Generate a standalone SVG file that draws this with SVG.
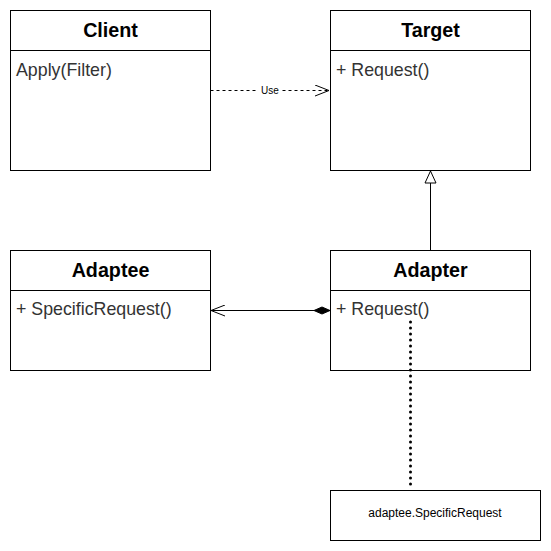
<svg xmlns="http://www.w3.org/2000/svg" width="551" height="551" viewBox="0 0 551 551">
<style>
.box{fill:#fff;stroke:#000;stroke-width:1}
.title{font-family:"Liberation Sans",Arial,sans-serif;font-size:19.7px;font-weight:bold;text-anchor:middle}
.member{font-family:"Liberation Sans",Arial,sans-serif;font-size:17.8px;fill:#333}
.conn{fill:none;stroke:#000;stroke-width:1}
</style>
<defs>
<marker id="open" markerWidth="16" markerHeight="12" refX="15" refY="6" orient="auto" markerUnits="userSpaceOnUse">
<path d="M1,0.5 L15,6 L1,11.5" fill="none" stroke="#000" stroke-width="1"/>
</marker>
<marker id="tri" markerWidth="14" markerHeight="14" refX="13" refY="7" orient="auto" markerUnits="userSpaceOnUse">
<path d="M1,1.5 L13,7 L1,12.5 Z" fill="#fff" stroke="#000" stroke-width="1"/>
</marker>
<marker id="diamond" markerWidth="18" markerHeight="10" refX="1" refY="5" orient="auto" markerUnits="userSpaceOnUse">
<path d="M1,5 L9,1.5 L17,5 L9,8.5 Z" fill="#000" stroke="#000" stroke-width="1"/>
</marker>
</defs>
<rect width="551" height="551" fill="#fff"/>
<g id="client">
<rect class="box" x="10.5" y="10.5" width="200" height="160"/>
<line class="conn" x1="10.5" y1="50.5" x2="210.5" y2="50.5"/>
<text class="title" x="110.5" y="36.7">Client</text>
<text class="member" x="16" y="76">Apply(Filter)</text>
</g>
<g id="target">
<rect class="box" x="330.5" y="10.5" width="200" height="160"/>
<line class="conn" x1="330.5" y1="50.5" x2="530.5" y2="50.5"/>
<text class="title" x="430.5" y="36.7">Target</text>
<text class="member" x="336" y="76">+ Request()</text>
</g>
<g id="adaptee">
<rect class="box" x="10.5" y="250.5" width="200" height="120"/>
<line class="conn" x1="10.5" y1="290.5" x2="210.5" y2="290.5"/>
<text class="title" x="110.5" y="276.7">Adaptee</text>
<text class="member" x="16" y="314.5">+ SpecificRequest()</text>
</g>
<g id="adapter">
<rect class="box" x="330.5" y="250.5" width="200" height="120"/>
<line class="conn" x1="330.5" y1="290.5" x2="530.5" y2="290.5"/>
<text class="title" x="430.5" y="276.7">Adapter</text>
<text class="member" x="336" y="314.5">+ Request()</text>
</g>
<g id="note">
<rect class="box" x="330.5" y="490.5" width="210" height="50"/>
<text x="435" y="517" font-family="'Liberation Sans',Arial,sans-serif" font-size="12" text-anchor="middle">adaptee.SpecificRequest</text>
</g>
<g id="connectors">
<line class="conn" x1="210.5" y1="90.5" x2="329" y2="90.5" stroke-dasharray="3,3" marker-end="url(#open)"/>
<rect x="258" y="84" width="24" height="12" fill="#fff"/>
<text x="270" y="94" font-family="'Liberation Sans',Arial,sans-serif" font-size="10" text-anchor="middle">Use</text>
<line class="conn" x1="430.5" y1="250" x2="430.5" y2="171" marker-end="url(#tri)"/>
<line class="conn" x1="330" y1="310.5" x2="211" y2="310.5" marker-start="url(#diamond)" marker-end="url(#open)" stroke="#444"/>
<line x1="410.5" y1="322" x2="410.5" y2="490" stroke="#000" stroke-width="3" stroke-dasharray="0,6" stroke-linecap="round"/>
</g>
</svg>
